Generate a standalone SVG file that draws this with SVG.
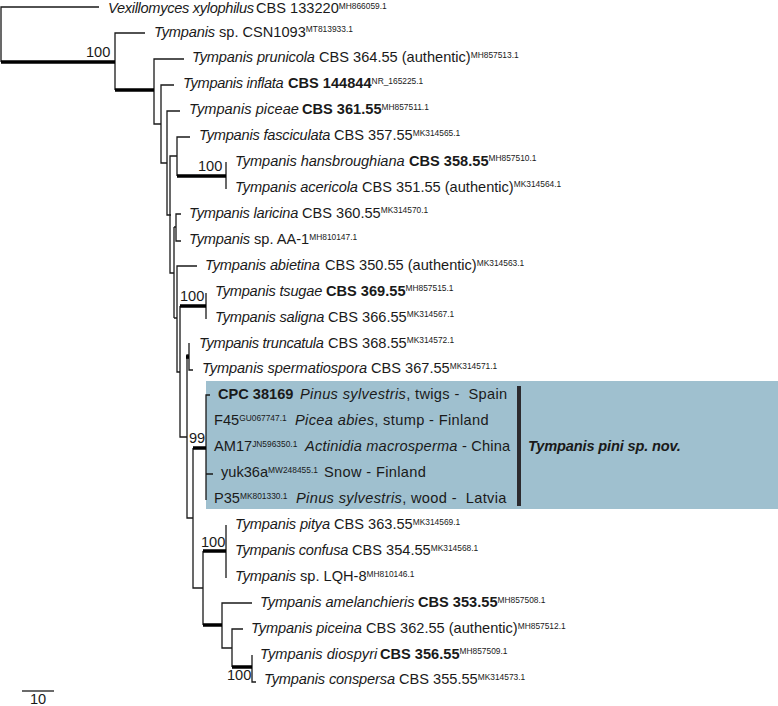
<svg xmlns="http://www.w3.org/2000/svg" width="778" height="706" viewBox="0 0 778 706">
<style>
text{font-family:"Liberation Sans",Arial,sans-serif;font-size:14.6px;fill:#1a1a1a}
.i{font-style:italic;letter-spacing:-0.15px}
.b{font-weight:bold}
.s{font-size:8.4px}
.w{letter-spacing:0.35px}
.t{fill:none;stroke:#1a1a1a;stroke-width:1.3}
.k{fill:none;stroke:#000;stroke-width:3.6}
</style>
<rect id="highlight" x="206" y="381" width="572" height="128" fill="#9fc0cf"/>
<g id="connectors">
<path class="t" d="M99 7H1V62M115 62V33H145M115 62V90M154 90V59H184M154 90V124H161M161 124V85H174M161 124V163H167M167 163V111H180M167 163V215H171M170 215V156H177M177 156V137H190M177 156V176M226 162V189M170 215V273H174M174 227H176M176 227V214H181M176 227V241H181M174 227V318M174 318H177M177 318V266H197M177 318V372H180M180 372V306M180 372V437H187M206 293V319M187 437V355H189M189 343V370H193M187 437V518H193M193 448V588H203M203 588V551M203 588V625M226 525V578M222 625V603H252M222 625V648H232M232 648V629H243M232 648V667M252 655V682H256M206 448V395H210M206 448V500M206 474H213"/>
<path class="k" d="M1 62H115M115 90H154M177 176H226M180 306H206M193 448H206M203 551H226M203 625H222M232 667H252"/>
<path class="k" stroke-width="2" d="M186 357H189"/>
<path d="M22 691H54" fill="none" stroke="#1a1a1a" stroke-width="1.3"/>
</g>
<g id="n1"><text x="108" y="13.3"><tspan class="i" style="letter-spacing:-0.3px">Vexillomyces xylophilus</tspan><tspan x="256">CBS 133220</tspan><tspan class="s" dy="-4.5">MH866059.1</tspan></text></g>
<g id="n2"><text x="154" y="36.5"><tspan class="i">Tympanis</tspan> sp. CSN1093<tspan class="s" dy="-4.5">MT813933.1</tspan></text></g>
<g id="n3"><text x="192" y="62.3"><tspan class="i">Tympanis prunicola</tspan><tspan x="319">CBS 364.55 (authentic)</tspan><tspan class="s" dy="-4.5">MH857513.1</tspan></text></g>
<g id="n4"><text x="183" y="88"><tspan class="i" style="letter-spacing:-0.3px">Tympanis inflata</tspan><tspan class="b" x="288">CBS 144844</tspan><tspan class="s" dy="-4.5">NR_165225.1</tspan></text></g>
<g id="n5"><text x="189" y="114"><tspan class="i" style="letter-spacing:0.05px">Tympanis piceae</tspan><tspan class="b" x="302">CBS 361.55</tspan><tspan class="s" dy="-4.5">MH857511.1</tspan></text></g>
<g id="n6"><text x="199" y="140"><tspan class="i" style="letter-spacing:-0.2px">Tympanis fasciculata</tspan><tspan x="334">CBS 357.55</tspan><tspan class="s" dy="-4.5">MK314565.1</tspan></text></g>
<g id="n7"><text x="235" y="165.7"><tspan class="i" style="letter-spacing:-0.06px">Tympanis hansbroughiana</tspan><tspan class="b" x="409">CBS 358.55</tspan><tspan class="s" dy="-4.5">MH857510.1</tspan></text></g>
<g id="n8"><text x="235" y="191.7"><tspan class="i" style="letter-spacing:-0.1px">Tympanis acericola</tspan><tspan x="362">CBS 351.55 (authentic)</tspan><tspan class="s" dy="-4.5">MK314564.1</tspan></text></g>
<g id="n9"><text x="189" y="217.5"><tspan class="i" style="letter-spacing:-0.2px">Tympanis laricina</tspan><tspan x="302">CBS 360.55</tspan><tspan class="s" dy="-4.5">MK314570.1</tspan></text></g>
<g id="n10"><text x="189" y="244"><tspan class="i">Tympanis</tspan> sp. AA-1<tspan class="s" dy="-4.5">MH810147.1</tspan></text></g>
<g id="n11"><text x="205" y="270"><tspan class="i">Tympanis abietina</tspan><tspan x="325">CBS 350.55 (authentic)</tspan><tspan class="s" dy="-4.5">MK314563.1</tspan></text></g>
<g id="n12"><text x="215" y="295.7"><tspan class="i" style="letter-spacing:-0.2px">Tympanis tsugae</tspan><tspan class="b" x="326">CBS 369.55</tspan><tspan class="s" dy="-4.5">MH857515.1</tspan></text></g>
<g id="n13"><text x="215" y="321.7"><tspan class="i" style="letter-spacing:-0.2px">Tympanis saligna</tspan><tspan x="328">CBS 366.55</tspan><tspan class="s" dy="-4.5">MK314567.1</tspan></text></g>
<g id="n14"><text x="199" y="347.5"><tspan class="i" style="letter-spacing:-0.3px">Tympanis truncatula</tspan><tspan x="328">CBS 368.55</tspan><tspan class="s" dy="-4.5">MK314572.1</tspan></text></g>
<g id="n15"><text x="202" y="373"><tspan class="i" style="letter-spacing:-0.08px">Tympanis spermatiospora</tspan><tspan x="371">CBS 367.55</tspan><tspan class="s" dy="-4.5">MK314571.1</tspan></text></g>
<g id="n16"><text x="218" y="399.3" xml:space="preserve"><tspan class="b">CPC 38169</tspan><tspan class="w" x="300"><tspan class="i" style="letter-spacing:0.35px">Pinus sylvestris</tspan>, twigs -  Spain</tspan></text></g>
<g id="n17"><text x="214" y="425">F45<tspan class="s" dy="-4.5">GU067747.1</tspan><tspan class="w" dy="4.5" x="295"><tspan class="i" style="letter-spacing:0.35px">Picea abies</tspan>, stump - Finland</tspan></text></g>
<g id="n18"><text x="214" y="451">AM17<tspan class="s" dy="-4.5">JN596350.1</tspan><tspan dy="4.5" x="305" style="letter-spacing:0.2px"><tspan class="i" style="letter-spacing:0.2px">Actinidia macrosperma</tspan> - China</tspan></text></g>
<g id="n19"><text x="221" y="477">yuk36a<tspan class="s" dy="-4.5">MW248455.1</tspan><tspan class="w" dy="4.5" x="324">Snow - Finland</tspan></text></g>
<g id="n20"><text x="214" y="503" xml:space="preserve">P35<tspan class="s" dy="-4.5">MK801330.1</tspan><tspan class="w" dy="4.5" x="296"><tspan class="i" style="letter-spacing:0.35px">Pinus sylvestris</tspan>, wood -  Latvia</tspan></text></g>
<g id="n21"><text x="235" y="529"><tspan class="i">Tympanis pitya</tspan><tspan x="334">CBS 363.55</tspan><tspan class="s" dy="-4.5">MK314569.1</tspan></text></g>
<g id="n22"><text x="235" y="555"><tspan class="i" style="letter-spacing:-0.27px">Tympanis confusa</tspan><tspan x="352">CBS 354.55</tspan><tspan class="s" dy="-4.5">MK314568.1</tspan></text></g>
<g id="n23"><text x="235" y="581"><tspan class="i">Tympanis</tspan> sp. LQH-8<tspan class="s" dy="-4.5">MH810146.1</tspan></text></g>
<g id="n24"><text x="260" y="607"><tspan class="i" style="letter-spacing:-0.08px">Tympanis amelanchieris</tspan><tspan class="b" x="418">CBS 353.55</tspan><tspan class="s" dy="-4.5">MH857508.1</tspan></text></g>
<g id="n25"><text x="251" y="633"><tspan class="i" style="letter-spacing:-0.1px">Tympanis piceina</tspan><tspan x="366">CBS 362.55 (authentic)</tspan><tspan class="s" dy="-4.5">MH857512.1</tspan></text></g>
<g id="n26"><text x="260" y="658.5"><tspan class="i" style="letter-spacing:0.05px">Tympanis diospyri</tspan><tspan class="b" x="380">CBS 356.55</tspan><tspan class="s" dy="-4.5">MH857509.1</tspan></text></g>
<g id="n27"><text x="264" y="684"><tspan class="i">Tympanis conspersa</tspan><tspan x="399">CBS 355.55</tspan><tspan class="s" dy="-4.5">MK314573.1</tspan></text></g>
<g id="clade"><rect x="517" y="386" width="4" height="120" fill="#2c2a2e"/><text x="528" y="451" class="i b">Tympanis pini sp. nov.</text></g>
<g id="support">
<text x="86" y="57">100</text>
<text x="198" y="171">100</text>
<text x="180" y="301">100</text>
<text x="189" y="443">99</text>
<text x="201" y="547">100</text>
<text x="227" y="680">100</text>
</g>
<g id="scale"><text x="30" y="704">10</text></g>
</svg>
